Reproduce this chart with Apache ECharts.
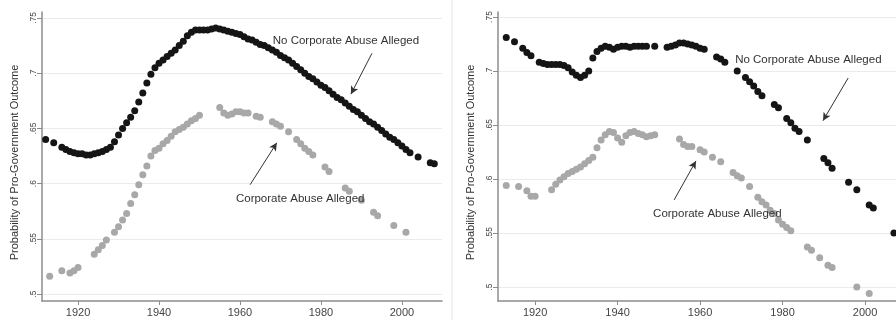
<!DOCTYPE html>
<html>
<head>
<meta charset="utf-8">
<script src="https://cdn.jsdelivr.net/npm/echarts@6/dist/echarts.min.js"></script>
<style>
  html, body { margin: 0; padding: 0; background: #fff; }
  #chart { width: 896px; height: 320px; }
</style>
</head>
<body>
<div id="chart"></div>
<script>
// x tick labels / y tick labels
const xTicks = [1920, 1940, 1960, 1980, 2000];
const yTicks = [0.5, 0.55, 0.6, 0.65, 0.7, 0.75];
const yTickLabels = ['.5', '.55', '.6', '.65', '.7', '.75'];
const yTitle = 'Probability of Pro-Government Outcome';

// left panel, no corporate abuse alleged
const leftNoYears = [1912, 1914, 1916, 1917, 1918, 1919, 1920, 1921, 1922, 1923, 1924, 1925, 1926, 1927, 1928, 1929,
  1930, 1931, 1932, 1933, 1934, 1935, 1936, 1937, 1938, 1939, 1940, 1941, 1942, 1943, 1944, 1945, 1946, 1947, 1948, 1949,
  1950, 1951, 1952, 1953, 1954, 1955, 1956, 1957, 1958, 1959, 1960, 1961, 1962, 1963, 1964, 1965, 1966, 1967, 1968, 1969,
  1970, 1971, 1972, 1973, 1974, 1975, 1976, 1977, 1978, 1979, 1980, 1981, 1982, 1983, 1984, 1985, 1986, 1987, 1988, 1989,
  1990, 1991, 1992, 1993, 1994, 1995, 1996, 1997, 1998, 1999, 2000, 2001, 2002, 2004, 2007, 2008];
const leftNoVals = [.640, .637, .633, .631, .629, .628, .627, .627, .626, .626, .627, .628, .629, .631, .633, .638,
  .644, .650, .655, .660, .666, .674, .682, .691, .699, .705, .709, .712, .715, .718, .721, .725, .729, .734, .737, .739,
  .739, .739, .739, .740, .741, .740, .739, .738, .737, .736, .735, .733, .731, .730, .728, .726, .725, .723, .721, .719,
  .716, .714, .712, .709, .706, .703, .700, .697, .695, .692, .689, .687, .684, .681, .678, .676, .673, .670, .667, .665,
  .662, .659, .656, .654, .651, .648, .645, .642, .640, .637, .634, .631, .628, .624, .619, .618];

// left panel, corporate abuse alleged
const leftAbuseYears = [1913, 1916, 1918, 1919, 1920, 1924, 1925, 1926, 1927, 1929, 1930, 1931, 1932, 1933, 1934, 1935,
  1936, 1937, 1938, 1939, 1940, 1941, 1942, 1943, 1944, 1945, 1946, 1947, 1948, 1949, 1950, 1955, 1956, 1957, 1958, 1959,
  1960, 1961, 1962, 1964, 1965, 1968, 1969, 1970, 1972, 1974, 1975, 1976, 1977, 1978, 1981, 1982, 1986, 1987, 1990, 1993,
  1994, 1998, 2001];
const leftAbuseVals = [.516, .521, .519, .521, .524, .536, .540, .544, .549, .556, .561, .567, .573, .582, .590, .599,
  .608, .616, .625, .630, .632, .636, .639, .643, .647, .649, .651, .654, .657, .659, .662, .669, .664, .662, .663, .665,
  .665, .664, .664, .661, .660, .656, .654, .652, .647, .640, .636, .632, .629, .626, .615, .611, .596, .593, .585, .574,
  .571, .562, .556];

// right panel, no corporate abuse alleged
const rightNoYears = [1913, 1915, 1917, 1918, 1919, 1921, 1922, 1923, 1924, 1925, 1926, 1927, 1928, 1929, 1930, 1931,
  1932, 1933, 1934, 1935, 1936, 1937, 1938, 1939, 1940, 1941, 1942, 1943, 1944, 1945, 1946, 1947, 1949, 1952, 1953, 1954,
  1955, 1956, 1957, 1958, 1959, 1960, 1961, 1964, 1965, 1966, 1969, 1971, 1972, 1973, 1974, 1975, 1978, 1979, 1981, 1982,
  1983, 1984, 1986, 1990, 1991, 1992, 1996, 1998, 2001, 2002, 2007];
const rightNoVals = [.731, .727, .721, .717, .714, .708, .707, .706, .706, .706, .706, .705, .703, .699, .696, .694,
  .696, .700, .712, .718, .721, .723, .722, .720, .722, .723, .723, .722, .723, .723, .723, .723, .723, .722, .723, .724,
  .726, .726, .725, .724, .723, .721, .720, .713, .711, .708, .700, .694, .690, .686, .681, .677, .669, .666, .656, .652,
  .647, .644, .636, .619, .615, .610, .597, .590, .576, .573, .550];

// right panel, corporate abuse alleged
const rightAbuseYears = [1913, 1916, 1918, 1919, 1920, 1924, 1925, 1926, 1927, 1928, 1929, 1930, 1931, 1932, 1933, 1934,
  1935, 1936, 1937, 1938, 1939, 1940, 1941, 1942, 1943, 1944, 1945, 1946, 1947, 1948, 1949, 1955, 1956, 1957, 1958, 1960,
  1961, 1963, 1965, 1968, 1969, 1970, 1972, 1974, 1975, 1976, 1977, 1978, 1979, 1980, 1981, 1982, 1986, 1987, 1989, 1991,
  1992, 1998, 2001];
const rightAbuseVals = [.594, .593, .589, .584, .584, .590, .595, .599, .602, .605, .607, .609, .611, .614, .617, .620,
  .629, .636, .641, .644, .643, .638, .634, .640, .643, .644, .642, .641, .639, .640, .641, .637, .632, .630, .630, .627,
  .625, .620, .616, .606, .603, .601, .593, .583, .579, .576, .571, .568, .562, .558, .555, .552, .537, .534, .527, .520,
  .518, .500, .494];

const font = '"Liberation Sans", Arial, Helvetica, sans-serif';
const zip = (xs, ys) => xs.map((x, i) => [x, ys[i]]);

function xAxisFor(gridIndex, min, max) {
  return {
    type: 'value', gridIndex, min, max,
    axisLine: { show: true, onZero: false, lineStyle: { color: '#8c8c8c', width: 1.5 } },
    axisTick: { show: true, length: 4, customValues: xTicks, lineStyle: { color: '#8c8c8c' } },
    axisLabel: {
      customValues: xTicks, fontSize: 11, color: '#444', fontFamily: font, margin: 6,
      formatter: v => String(Math.round(v))
    },
    splitLine: { show: false }
  };
}

function yAxisFor(gridIndex, min, max) {
  return {
    type: 'value', gridIndex, min, max,
    name: yTitle, nameLocation: 'middle', nameGap: 22,
    nameTextStyle: { fontSize: 11, color: '#333', fontFamily: font, padding: [0, 12, 0, 0] },
    axisLine: { show: true, onZero: false, lineStyle: { color: '#8c8c8c', width: 1.5 } },
    axisTick: { show: true, length: 5, customValues: yTicks, lineStyle: { color: '#8c8c8c' } },
    axisLabel: {
      customValues: yTicks, rotate: 90, fontSize: 8.5, color: '#444', fontFamily: font, margin: 4,
      formatter: v => {
        const i = yTicks.findIndex(t => Math.abs(t - v) < 1e-6);
        return i >= 0 ? yTickLabels[i] : '';
      }
    },
    splitLine: { show: true, lineStyle: { color: '#ebebeb', width: 1 } }
  };
}

function arrow(from, to) {
  return [{ coord: from, symbol: 'none' }, { coord: to, symbol: 'arrow', symbolSize: [6, 8] }];
}

function note(coord, text) {
  return { coord, name: text };
}

function dots(name, idx, data, color, z, notes, arrows) {
  return {
    name, type: 'scatter', xAxisIndex: idx, yAxisIndex: idx, data,
    symbol: 'circle', symbolSize: 7, z,
    itemStyle: { color, opacity: 1 },
    markLine: {
      silent: true, animation: false, symbol: ['none', 'arrow'],
      lineStyle: { color: '#333', width: 1, type: 'solid' },
      label: { show: false },
      data: arrows
    },
    markPoint: {
      silent: true, animation: false, symbol: 'circle', symbolSize: 0,
      label: {
        show: true, position: 'right', distance: 0, formatter: p => p.name,
        fontSize: 11.5, color: '#333', fontFamily: font
      },
      data: notes
    }
  };
}

const chart = echarts.init(document.getElementById('chart'), null, { renderer: 'canvas' });

chart.setOption({
  animation: false,
  backgroundColor: '#fff',
  grid: [
    { left: 42, right: 454, top: 12, bottom: 19, containLabel: false },
    { left: 498, right: 0, top: 12, bottom: 19, containLabel: false }
  ],
  // right panel is cut off at the image edge, so its x range stops early
  xAxis: [xAxisFor(0, 1911.1, 2009.9), xAxisFor(1, 1911.0, 2007.5)],
  yAxis: [yAxisFor(0, 0.4937, 0.7554), yAxisFor(1, 0.487, 0.7546)],
  graphic: [
    { type: 'line', shape: { x1: 452, y1: 0, x2: 452, y2: 320 }, style: { stroke: '#e4e4e4', lineWidth: 1 }, silent: true }
  ],
  series: [
    dots('Corporate Abuse Alleged', 0, zip(leftAbuseYears, leftAbuseVals), '#a8a8a8', 2,
      [note([1959.0, 0.586], 'Corporate Abuse Alleged')],
      [arrow([1962.5, 0.599], [1969.1, 0.637])]),
    dots('No Corporate Abuse Alleged', 0, zip(leftNoYears, leftNoVals), '#151515', 3,
      [note([1968.1, 0.729], 'No Corporate Abuse Alleged')],
      [arrow([1992.6, 0.718], [1987.4, 0.681])]),
    dots('Corporate Abuse Alleged', 1, zip(rightAbuseYears, rightAbuseVals), '#a8a8a8', 2,
      [note([1948.6, 0.5676], 'Corporate Abuse Alleged')],
      [arrow([1953.7, 0.5806], [1959.0, 0.6167])]),
    dots('No Corporate Abuse Alleged', 1, zip(rightNoYears, rightNoVals), '#151515', 3,
      [note([1968.5, 0.710], 'No Corporate Abuse Alleged')],
      [arrow([1995.9, 0.6935], [1989.8, 0.654])])
  ]
});
</script>
</body>
</html>
